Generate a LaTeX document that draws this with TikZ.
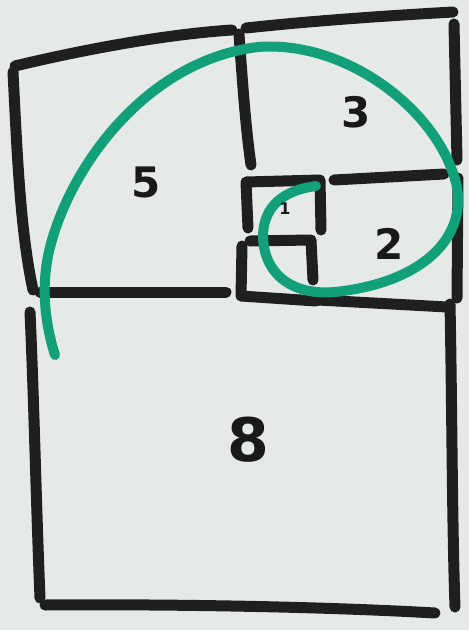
\documentclass[tikz,border=0pt]{standalone}
\usepackage{fontspec}
\setmainfont{DejaVu Sans}
\definecolor{spiralgreen}{RGB}{18,160,122}
\definecolor{paper}{RGB}{229,234,230}
\begin{document}
\begin{tikzpicture}[x=1pt,y=-1pt,
  ink/.style={draw=black!88,line width=11pt,line cap=round,line join=round},
  spiral/.style={draw=spiralgreen,line width=10pt,line cap=round},
  numlabel/.style={font=\bfseries\fontsize{42}{42}\selectfont,text=black!90}]
\fill[paper] (0,0) rectangle (469,630);
\useasboundingbox (0,0) rectangle (469,630);
% square 5
\draw[ink] (15,66) .. controls (90,48) and (170,34) .. (232,30);
\draw[ink] (13,72) .. controls (17,150) and (20,230) .. (33,290);
\draw[ink] (40,292) -- (226,292);
% middle vertical
\draw[ink] (239,34) .. controls (243,90) and (246,130) .. (251,165);
% square 3
\draw[ink] (246,28) .. controls (320,20) and (400,15) .. (453,12);
\draw[ink] (454,24) -- (457,160);
\draw[ink] (334,180) -- (444,174);
% square 2
\draw[ink] (458,178) -- (457,298);
\draw[ink] (318,300) -- (447,307);
% small squares
\draw[ink] (248,228) -- (246,182) -- (320,180) -- (321,230);
\draw[ink] (242,246) -- (241,296) -- (316,301);
\draw[ink] (250,241) -- (311,240) -- (313,280);
% square 8
\draw[ink] (30,312) .. controls (34,400) and (36,500) .. (40,598);
\draw[ink] (45,605) .. controls (180,604) and (330,607) .. (435,613);
\draw[ink] (450,304) .. controls (452,400) and (452,520) .. (455,607);
% spiral
\draw[spiral] (55,355) .. controls (44,320) and (40,280) .. (52,240)
  .. controls (75,160) and (150,60) .. (258,47)
  .. controls (345,40) and (440,110) .. (457,187)
  .. controls (466,240) and (420,283) .. (335,292)
  .. controls (290,296) and (263,272) .. (263,235)
  .. controls (264,205) and (285,190) .. (316,186);
% labels
\node[numlabel] (five) at (146,182) {5};
\node[numlabel] (three) at (356,112) {3};
\node[numlabel] (two) at (389,244) {2};
\node[numlabel,font=\bfseries\fontsize{60}{60}\selectfont] (eight) at (248,440) {8};
\node[font=\bfseries\fontsize{16}{16}\selectfont,text=black!90] (one) at (285,209) {1};
\end{tikzpicture}
\end{document}
